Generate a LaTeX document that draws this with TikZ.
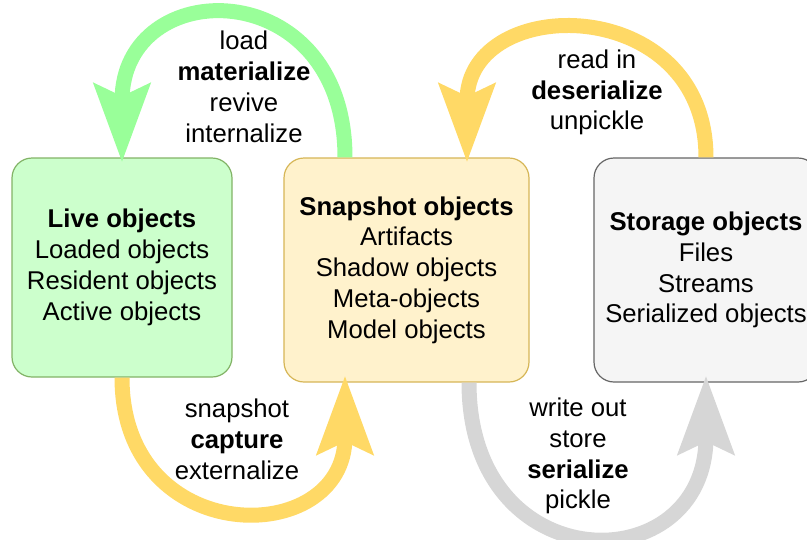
\documentclass[tikz,border=0pt]{standalone}
\usepackage{fontspec}
\setmainfont{Liberation Sans}
\usetikzlibrary{arrows.meta}

\definecolor{liveFill}{HTML}{CCFFCC}
\definecolor{liveLine}{HTML}{82B366}
\definecolor{snapFill}{HTML}{FFF2CC}
\definecolor{snapLine}{HTML}{D6B656}
\definecolor{storeFill}{HTML}{F5F5F5}
\definecolor{storeLine}{HTML}{666666}
\definecolor{greenFlow}{HTML}{99FF99}
\definecolor{yellowFlow}{HTML}{FFD966}
\definecolor{grayFlow}{HTML}{D6D6D6}

\tikzset{
  objbox/.style={draw, line width=1.2pt, rounded corners=20pt, align=center,
    inner sep=0pt, font=\fontsize{25.7}{30.8}\selectfont},
  verbs/.style={align=center, font=\fontsize{25.7}{30.8}\selectfont},
  flow/.style={line width=15pt, -{Stealth[length=78pt, width=55pt, inset=12pt]}}
}

\begin{document}
\begin{tikzpicture}[x=1pt, y=-1pt]
  \useasboundingbox (0,0) rectangle (807,539);

  % the three kinds of objects
  \node[objbox, fill=liveFill, draw=liveLine, minimum width=220pt, minimum height=219pt]
    (live) at (122,267.5) {\textbf{Live objects}\\Loaded objects\\Resident objects\\Active objects};
  \node[objbox, fill=snapFill, draw=snapLine, minimum width=245pt, minimum height=224pt]
    (snap) at (406.5,270) {\textbf{Snapshot objects}\\Artifacts\\Shadow objects\\Meta-objects\\Model objects};
  \node[objbox, fill=storeFill, draw=storeLine, minimum width=224pt, minimum height=224pt]
    (store) at (706,270) {\textbf{Storage objects}\\Files\\Streams\\Serialized objects};

  % transitions between them
  \draw[flow, greenFlow] ([xshift=-61.5pt]snap.north)
    .. controls +(0,-185) and +(0,-190) .. ([yshift=-5pt]live.north);
  \draw[flow, yellowFlow] (store.north)
    .. controls +(0,-165) and +(0,-170) .. ([xshift=60.5pt, yshift=-5pt]snap.north);
  \draw[flow, yellowFlow] (live.south)
    .. controls +(0,172) and +(0,174) .. ([xshift=-61.5pt, yshift=7pt]snap.south);
  \draw[flow, grayFlow] ([xshift=62.5pt]snap.south)
    .. controls +(0,200) and +(0,207) .. ([yshift=7pt]store.south);

  % names of the transitions
  \node[verbs] (load) at (244,87) {load\\\textbf{materialize}\\revive\\internalize};
  \node[verbs] (readin) at (597,92.5) {read in\\\textbf{deserialize}\\unpickle};
  \node[verbs] (capture) at (237,439.5) {snapshot\\\textbf{capture}\\externalize};
  \node[verbs] (writeout) at (578,456) {write out\\store\\\textbf{serialize}\\pickle};
\end{tikzpicture}
\end{document}
